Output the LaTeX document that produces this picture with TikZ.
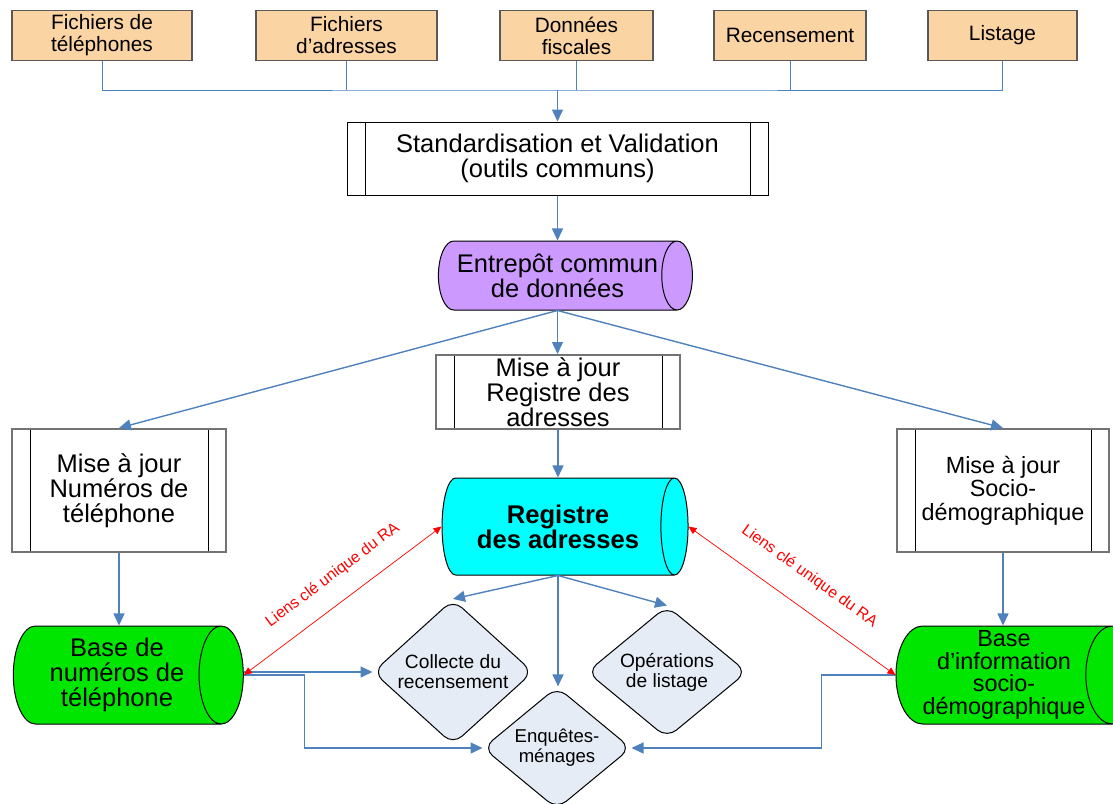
\documentclass[tikz,border=0pt]{standalone}
\usepackage{fontspec}
\setmainfont{Liberation Sans}
\usetikzlibrary{calc,positioning,shapes.geometric,arrows.meta}
\definecolor{srcfill}{RGB}{251,212,164}
\definecolor{entfill}{RGB}{204,153,255}
\definecolor{regfill}{RGB}{0,255,255}
\definecolor{basefill}{RGB}{0,230,0}
\definecolor{opfill}{RGB}{230,236,246}
\definecolor{fluxbleu}{RGB}{79,129,189}
\tikzset{
  srcbox/.style={draw=black!65,line width=0.75pt,fill=srcfill,minimum height=25pt,inner sep=0pt,
    align=center,font=\fontsize{10.4}{11}\selectfont},
  procbox/.style={draw=black!55,line width=1pt,fill=white,inner sep=0pt,align=center,
    font=\fontsize{12.75}{12.5}\selectfont,
    path picture={\draw[black,line width=0.5pt]
      ([xshift=9pt]path picture bounding box.north west) -- ([xshift=9pt]path picture bounding box.south west)
      ([xshift=-9pt]path picture bounding box.north east) -- ([xshift=-9pt]path picture bounding box.south east);}},
  % cylinder: minimum height = length, minimum width = diameter
  depot/.style={cylinder,draw=black,line width=0.5pt,inner sep=0pt,align=center,
    font=\fontsize{12.75}{12.5}\selectfont},
  tache/.style={diamond,draw=black,line width=0.5pt,fill=opfill,rounded corners=6pt,inner sep=0pt,
    align=center,minimum width=80pt,minimum height=65pt,font=\fontsize{9.6}{10}\selectfont},
  flux/.style={draw=fluxbleu,line width=0.7pt,-{Triangle[length=6pt,width=5.5pt]}},
  fluxfin/.style={draw=fluxbleu,line width=0.5pt},
  lien/.style={draw=red,line width=0.35pt,{Triangle[length=4pt,width=3.5pt]}-{Triangle[length=4pt,width=3.5pt]}},
  lienlabel/.style={sloped,text=red,inner sep=0pt,font=\fontsize{7.9}{9}\selectfont}
}
\begin{document}
\begin{tikzpicture}[x=0.5pt,y=-0.5pt]
  \useasboundingbox (0,0) rectangle (1113,803);
  % sources
  \node (src1) [srcbox,minimum width=90pt] at (102,35.5) {Fichiers de\\téléphones};
  \node (src2) [srcbox,minimum width=90.5pt] at (346.5,35.5) {Fichiers\\d’adresses};
  \node (src3) [srcbox,minimum width=76.5pt] at (576.5,35.5) {Données\\fiscales};
  \node (src4) [srcbox,minimum width=76pt] at (790,35.5) {Recensement};
  \node (src5) [srcbox,minimum width=74.5pt] at (1002.5,35.5) {Listage};
  \coordinate (jn) at (557.5,90);
  \draw[fluxfin] (src1.south) |- (jn) -| (src5.south);
  \foreach \s in {src2,src3,src4}
    \draw[fluxfin] (\s.south) -- (\s.south |- jn);

  \node (std) [procbox,draw=black,line width=0.5pt,minimum width=210.5pt,minimum height=36.5pt] at (557.5,158.5)
    {Standardisation et Validation\\(outils communs)};
  \draw[flux] (jn) -- (std.north);

  \node (ent) [depot,fill=entfill,minimum height=127pt,minimum width=34.5pt,shape aspect=0.7] at (557.5,275.5)
    {Entrepôt commun\\de données};
  \draw[flux] (std.south) -- (std.south |- ent.north);

  % mises a jour
  \node (majreg) [procbox,minimum width=122pt,minimum height=37pt] at (558,392) {Mise à jour\\Registre des\\adresses};
  \node (majtel) [procbox,minimum width=107pt,minimum height=61.5pt] at (119,490.5) {Mise à jour\\Numéros de\\téléphone};
  \node (majsoc) [procbox,minimum width=106pt,minimum height=61.5pt,font=\fontsize{11.7}{11.75}\selectfont] at (1003,490.5)
    {Mise à jour\\Socio-\\démographique};
  \coordinate (entb) at (std.south |- ent.south);
  \draw[flux] (entb) -- (entb |- majreg.north);
  \draw[flux] (entb) -- (majtel.north);
  \draw[flux] (entb) -- (majsoc.north);

  % bases
  \node (reg) [depot,fill=regfill,minimum height=123pt,minimum width=48.5pt,shape aspect=0.62,
    font=\bfseries\fontsize{12.8}{12.5}\selectfont] at (558,526.5) {Registre\\des adresses};
  \node (btel) [depot,fill=basefill,minimum height=115pt,minimum width=49pt,shape aspect=0.6] at (117,675)
    {Base de\\numéros de\\téléphone};
  \node (bsoc) [depot,fill=basefill,minimum height=113.5pt,minimum width=49pt,shape aspect=0.6,
    font=\fontsize{11.7}{11.35}\selectfont] at (1004,675) {Base\\d’information\\socio-\\démographique};
  \draw[flux] (majreg.south) -- (majreg.south |- reg.north);
  \draw[flux] (majtel.south) -- (majtel.south |- btel.north);
  \draw[flux] (majsoc.south) -- (majsoc.south |- bsoc.north);

  % utilisations
  \node (coll) [tache] at (453,672) {Collecte du\\recensement};
  \node (oper) [tache] at (667,672) {Opérations\\de listage};
  \node (enq) [tache,minimum width=74pt,minimum height=60pt,font=\fontsize{9.3}{10}\selectfont] at (557,748)
    {Enquêtes-\\ménages};
  \coordinate (regb) at (majreg.south |- reg.south);
  \draw[flux] (regb) -- (coll.north);
  \draw[flux] (regb) -- (oper.north);
  \draw[flux] (regb) -- (regb |- enq.north);

  \coordinate (ktel) at ($(btel.east)!.47!(coll.west)$);
  \coordinate (ksoc) at ($(oper.east)!.5!(bsoc.west)$);
  \draw[flux] (btel.east |- coll.west) -- (coll.west);
  \draw[flux] (btel.east) -- (btel.east -| ktel) |- (enq.west);
  \draw[flux] (bsoc.west) -- (bsoc.west -| ksoc) |- (enq.east);

  % liens
  \draw[lien] (btel.east) -- (reg.west) node[lienlabel,pos=0.53,above=9.3pt] {Liens clé unique du RA};
  \draw[lien] (reg.east) -- (bsoc.west) node[lienlabel,pos=0.5,above=11pt] {Liens clé unique du RA};
\end{tikzpicture}
\end{document}
